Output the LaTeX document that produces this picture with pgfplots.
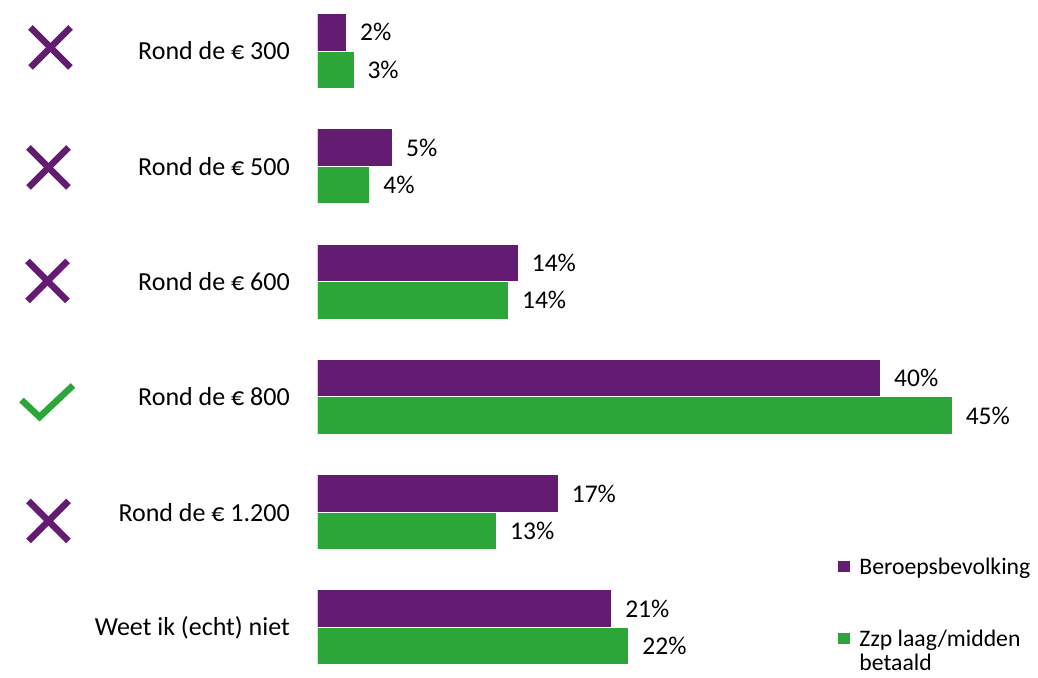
\documentclass[border=0pt]{standalone}
\usepackage{fontspec}
\setmainfont{Carlito}
\usepackage{pgfplots}
\pgfplotsset{compat=1.18}
\definecolor{cpurple}{RGB}{100,28,114}
\definecolor{cgreen}{RGB}{44,166,56}
\begin{document}
\begin{tikzpicture}[font=\fontsize{25.5bp}{24bp}\selectfont]
\useasboundingbox (0,0) rectangle (1038bp,678bp);
% decorative icons
\foreach \cx/\cy in {50.5/630.5, 48.5/510.5, 47.5/397, 48.5/157}{
  \draw[cpurple, line width=6.5bp, line cap=butt] (\cx bp-20bp,\cy bp-20bp) -- (\cx bp+20bp,\cy bp+20bp);
  \draw[cpurple, line width=6.5bp, line cap=butt] (\cx bp-20bp,\cy bp+20bp) -- (\cx bp+20bp,\cy bp-20bp);
}
\draw[cgreen, line width=6.5bp, line cap=butt, line join=miter] (21.5bp,278bp) -- (39.5bp,261bp) -- (73bp,292.5bp);
\begin{axis}[
  at={(317.7bp,4.4bp)}, anchor=south west,
  scale only axis, width=704.5bp, height=668.7bp,
  xmin=0, xmax=50, ymin=-0.4, ymax=5.4,
  xbar, bar width=37.5bp,
  axis x line=none, axis y line*=left, y axis line style={draw=none},
  ytick={0,...,5},
  yticklabels={Weet ik (echt) niet, Rond de € 1.200, Rond de € 800, Rond de € 600, Rond de € 500, Rond de € 300},
  major tick length=0pt,
  yticklabel style={inner sep=0pt, xshift=-27.7bp, font=\fontsize{26bp}{24bp}\selectfont},
  point meta=x,
  /pgf/number format/assume math mode=true,
  nodes near coords={\pgfmathprintnumber[fixed,precision=0]{\pgfplotspointmeta}\%},
  nodes near coords style={anchor=west, inner sep=0pt, xshift=13bp, text=black},
  legend style={at={(0.7385,0.1752)}, anchor=north west, draw=none, fill=none,
    inner sep=0pt, outer sep=0pt, row sep=49.5bp, column sep=7bp,
    font=\fontsize{23.7bp}{24bp}\selectfont,
    cells={anchor=base west, inner sep=0pt}},
  legend image code/.code={\fill[#1, draw=none] (0bp,3bp) rectangle (12.5bp,14bp);},
]
\addplot[fill=cpurple, draw=white, line width=1bp, bar shift=18.75bp]
  coordinates {(2.06,5) (5.32,4) (14.24,3) (39.96,2) (17.08,1) (20.87,0)};
\addlegendentry{Beroepsbevolking}
\addplot[fill=cgreen, draw=white, line width=1bp, bar shift=-18.75bp]
  coordinates {(2.58,5) (3.71,4) (13.55,3) (45.04,2) (12.70,1) (22.09,0)};
\addlegendentry{\begin{tabular}[t]{@{}l@{}}Zzp laag/midden\\betaald\end{tabular}}
\end{axis}
\end{tikzpicture}
\end{document}
